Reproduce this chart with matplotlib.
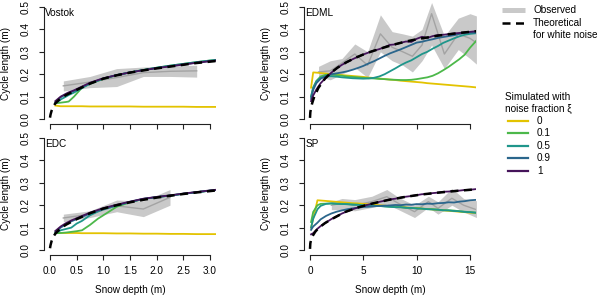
import matplotlib
matplotlib.use("Agg")
import matplotlib.pyplot as plt
from matplotlib.lines import Line2D

plt.rcParams['font.family'] = ['Liberation Sans', 'DejaVu Sans']
FS = 7.2

# ---------------- data ----------------
noise_labels = ["0", "0.1", "0.5", "0.9", "1"]
sim_colors = ["#E3C300", "#4CB84A", "#1F968B", "#2B668C", "#45145A"]

left_xticks = [0.0, 0.5, 1.0, 1.5, 2.0, 2.5, 3.0]
right_xticks = [0, 5, 10, 15]
yticks = [0.0, 0.1, 0.2, 0.3, 0.4, 0.5]

# Vostok
vostok_theo_d = [0, 0.01, 0.03, 0.06, 0.1, 0.2, 0.3, 0.5, 0.75, 1.0, 1.25, 1.5, 1.75, 2.0, 2.25, 2.5, 2.75, 3.0, 3.12]
vostok_theo_v = [0.006, 0.02, 0.037, 0.055, 0.07, 0.092, 0.107, 0.13, 0.158, 0.18, 0.195, 0.207, 0.217, 0.226, 0.234, 0.242, 0.25, 0.256, 0.259]
vostok_sim_d = [0.1, 0.2, 0.3, 0.35, 0.45, 0.6, 0.75, 1.0, 1.25, 1.5, 1.75, 2.0, 2.25, 2.5, 2.75, 3.0, 3.12]
vostok_sim0 = [0.06, 0.057, 0.057, 0.057, 0.057, 0.057, 0.056, 0.056, 0.056, 0.056, 0.055, 0.055, 0.055, 0.055, 0.054, 0.054, 0.054]
vostok_sim01 = [0.07, 0.073, 0.076, 0.078, 0.1, 0.14, 0.157, 0.179, 0.196, 0.208, 0.219, 0.229, 0.238, 0.246, 0.254, 0.261, 0.264]
vostok_sim05 = [0.07, 0.087, 0.1, 0.107, 0.118, 0.138, 0.158, 0.18, 0.196, 0.208, 0.219, 0.229, 0.238, 0.246, 0.254, 0.261, 0.264]
vostok_sim09 = [0.075, 0.097, 0.11, 0.116, 0.125, 0.142, 0.16, 0.181, 0.196, 0.208, 0.218, 0.228, 0.236, 0.244, 0.252, 0.259, 0.262]
vostok_sim1 = [0.08, 0.1, 0.113, 0.119, 0.128, 0.145, 0.162, 0.182, 0.196, 0.208, 0.218, 0.227, 0.235, 0.243, 0.251, 0.258, 0.261]
vostok_obs_d = [0.25, 0.75, 1.25, 1.75, 2.25, 2.75]
vostok_obs_mid = [0.148, 0.165, 0.185, 0.207, 0.213, 0.215]
vostok_obs_lo = [0.125, 0.14, 0.145, 0.19, 0.19, 0.187]
vostok_obs_hi = [0.17, 0.19, 0.225, 0.232, 0.237, 0.24]

# EDC
edc_theo_d = [0, 0.01, 0.03, 0.06, 0.1, 0.2, 0.3, 0.5, 0.75, 1.0, 1.25, 1.5, 1.75, 2.0, 2.25, 2.5, 2.75, 3.0, 3.12]
edc_theo_v = [0.008, 0.022, 0.04, 0.058, 0.073, 0.097, 0.113, 0.138, 0.164, 0.185, 0.2, 0.213, 0.224, 0.234, 0.242, 0.25, 0.257, 0.263, 0.266]
edc_sim_d = [0.1, 0.2, 0.3, 0.4, 0.5, 0.6, 0.75, 0.9, 1.0, 1.25, 1.5, 1.75, 2.0, 2.25, 2.5, 2.75, 3.0, 3.12]
edc_sim0 = [0.077, 0.076, 0.076, 0.076, 0.076, 0.075, 0.075, 0.075, 0.075, 0.074, 0.074, 0.073, 0.073, 0.072, 0.072, 0.071, 0.071, 0.071]
edc_sim01 = [0.075, 0.076, 0.078, 0.081, 0.084, 0.088, 0.112, 0.14, 0.155, 0.193, 0.213, 0.228, 0.236, 0.243, 0.251, 0.258, 0.265, 0.268]
edc_sim05 = [0.075, 0.088, 0.094, 0.1, 0.118, 0.13, 0.155, 0.172, 0.181, 0.198, 0.214, 0.228, 0.236, 0.243, 0.251, 0.258, 0.265, 0.268]
edc_sim09 = [0.08, 0.1, 0.115, 0.128, 0.138, 0.148, 0.163, 0.176, 0.184, 0.2, 0.215, 0.228, 0.236, 0.243, 0.251, 0.258, 0.265, 0.268]
edc_sim1 = [0.085, 0.105, 0.12, 0.132, 0.142, 0.152, 0.167, 0.179, 0.187, 0.202, 0.216, 0.229, 0.237, 0.244, 0.252, 0.259, 0.266, 0.269]
edc_obs_d = [0.25, 0.75, 1.25, 1.75, 2.25]
edc_obs_mid = [0.143, 0.16, 0.197, 0.183, 0.235]
edc_obs_lo = [0.126, 0.145, 0.171, 0.149, 0.2]
edc_obs_hi = [0.16, 0.175, 0.223, 0.219, 0.27]

# EDML
edml_theo_d = [0, 0.03, 0.1, 0.2, 0.4, 0.8, 1.4, 2.0, 2.6, 3.4, 4.2, 5.0, 5.8, 7.0, 8.0, 9.0, 10.0, 11.0, 12.0, 13.0, 14.0, 15.0, 15.6]
edml_theo_v = [0.005, 0.03, 0.05, 0.07, 0.1, 0.14, 0.18, 0.208, 0.23, 0.253, 0.272, 0.288, 0.302, 0.32, 0.334, 0.346, 0.356, 0.364, 0.372, 0.378, 0.384, 0.389, 0.392]
edml_sim_d = [0.1, 0.3, 0.6, 1.0, 1.5, 2.0, 2.5, 3.0, 3.5, 4.0, 4.5, 5.0, 5.5, 6.0, 6.5, 7.0, 7.5, 8.0, 8.5, 9.0,
              9.5, 10.0, 10.5, 11.0, 11.5, 12.0, 12.5, 13.0, 13.5, 14.0, 14.5, 15.0, 15.6]
edml_sim0 = [0.140, 0.208, 0.207, 0.205, 0.203, 0.200, 0.198, 0.196, 0.194, 0.192, 0.190, 0.188, 0.185, 0.183, 0.181, 0.178, 0.176,
             0.174, 0.171, 0.169, 0.167, 0.165, 0.163, 0.160, 0.158, 0.156, 0.154, 0.152, 0.150, 0.148, 0.146, 0.144, 0.141]
edml_sim01 = [0.100, 0.140, 0.170, 0.190, 0.198, 0.198, 0.196, 0.193, 0.190, 0.188, 0.186, 0.184, 0.182, 0.181, 0.179, 0.178, 0.176,
              0.175, 0.174, 0.174, 0.175, 0.178, 0.182, 0.186, 0.193, 0.204, 0.218, 0.233, 0.250, 0.267, 0.287, 0.318, 0.350]
edml_sim05 = [0.100, 0.140, 0.168, 0.184, 0.190, 0.191, 0.189, 0.186, 0.184, 0.182, 0.181, 0.180, 0.181, 0.184, 0.190, 0.200, 0.213,
              0.226, 0.240, 0.252, 0.262, 0.276, 0.290, 0.300, 0.314, 0.326, 0.340, 0.350, 0.360, 0.369, 0.376, 0.380, 0.383]
edml_sim09 = [0.090, 0.130, 0.160, 0.180, 0.192, 0.200, 0.204, 0.208, 0.213, 0.220, 0.228, 0.237, 0.248, 0.258, 0.270, 0.282, 0.293,
              0.302, 0.311, 0.321, 0.331, 0.341, 0.345, 0.351, 0.356, 0.362, 0.366, 0.370, 0.374, 0.380, 0.384, 0.386, 0.385]
edml_sim1 = [0.080, 0.105, 0.132, 0.160, 0.185, 0.207, 0.226, 0.242, 0.255, 0.267, 0.278, 0.288, 0.297, 0.305, 0.312, 0.321, 0.331,
             0.333, 0.340, 0.346, 0.344, 0.358, 0.367, 0.362, 0.370, 0.375, 0.376, 0.379, 0.382, 0.384, 0.387, 0.389, 0.392]
edml_obs_d = [0.8, 1.9, 3.0, 4.2, 5.4, 6.6, 7.7, 8.7, 9.6, 10.5, 11.4, 12.6, 13.9, 15.0, 15.6]
edml_obs_mid = [0.21, 0.215, 0.25, 0.29, 0.24, 0.38, 0.32, 0.30, 0.28, 0.33, 0.47, 0.29, 0.38, 0.36, 0.34]
edml_obs_lo = [0.19, 0.175, 0.20, 0.23, 0.185, 0.30, 0.26, 0.24, 0.21, 0.26, 0.33, 0.225, 0.31, 0.27, 0.245]
edml_obs_hi = [0.235, 0.26, 0.27, 0.335, 0.30, 0.465, 0.39, 0.38, 0.37, 0.40, 0.52, 0.37, 0.45, 0.47, 0.46]

# SP
sp_theo_d = [0, 0.03, 0.1, 0.2, 0.3, 0.5, 0.8, 1.4, 2.0, 3.3, 4.5, 5.8, 7.3, 8.9, 10.5, 12.0, 13.8, 15.6]
sp_theo_v = [0.005, 0.03, 0.045, 0.058, 0.067, 0.082, 0.098, 0.12, 0.137, 0.17, 0.19, 0.207, 0.223, 0.237, 0.248, 0.256, 0.264, 0.271]
sp_sim_d = [0.1, 0.3, 0.7, 1.0, 1.5, 2.0, 2.5, 3.0, 3.5, 4.0, 4.5, 5.0, 5.5, 6.0, 6.5, 7.0, 7.5, 8.0, 8.5, 9.0,
            9.5, 10.0, 10.5, 11.0, 11.5, 12.0, 12.5, 13.0, 13.5, 14.0, 14.5, 15.0, 15.6]
sp_sim0 = [0.100, 0.140, 0.222, 0.221, 0.219, 0.217, 0.215, 0.213, 0.211, 0.209, 0.208, 0.206, 0.204, 0.202, 0.200, 0.198, 0.196,
           0.194, 0.192, 0.190, 0.188, 0.187, 0.185, 0.183, 0.181, 0.179, 0.177, 0.175, 0.173, 0.171, 0.169, 0.167, 0.165]
sp_sim01 = [0.125, 0.170, 0.200, 0.206, 0.207, 0.208, 0.207, 0.206, 0.204, 0.204, 0.202, 0.200, 0.200, 0.198, 0.196, 0.196, 0.193,
            0.192, 0.191, 0.189, 0.187, 0.187, 0.184, 0.183, 0.182, 0.180, 0.178, 0.177, 0.176, 0.173, 0.171, 0.169, 0.167]
sp_sim05 = [0.100, 0.140, 0.182, 0.197, 0.206, 0.208, 0.206, 0.205, 0.205, 0.202, 0.202, 0.199, 0.200, 0.197, 0.197, 0.194, 0.193,
            0.191, 0.191, 0.188, 0.188, 0.185, 0.185, 0.182, 0.181, 0.180, 0.177, 0.177, 0.174, 0.173, 0.170, 0.169, 0.166]
sp_sim09 = [0.090, 0.105, 0.122, 0.137, 0.152, 0.163, 0.171, 0.177, 0.182, 0.186, 0.189, 0.192, 0.193, 0.195, 0.197, 0.198, 0.199,
            0.201, 0.200, 0.203, 0.202, 0.205, 0.204, 0.207, 0.206, 0.209, 0.210, 0.213, 0.212, 0.216, 0.218, 0.222, 0.224]
sp_sim1 = [0.070, 0.075, 0.095, 0.107, 0.123, 0.138, 0.151, 0.163, 0.173, 0.182, 0.190, 0.197, 0.203, 0.209, 0.215, 0.220, 0.226,
           0.229, 0.234, 0.238, 0.241, 0.245, 0.249, 0.250, 0.254, 0.256, 0.260, 0.261, 0.264, 0.265, 0.268, 0.269, 0.272]
sp_obs_d = [2.0, 3.0, 4.2, 5.8, 7.2, 8.3, 9.8, 11.1, 12.0, 13.3, 14.4, 15.6]
sp_obs_mid = [0.2, 0.208, 0.2, 0.216, 0.238, 0.208, 0.171, 0.216, 0.186, 0.231, 0.2, 0.18]
sp_obs_lo = [0.18, 0.18, 0.175, 0.19, 0.205, 0.18, 0.145, 0.19, 0.16, 0.2, 0.17, 0.145]
sp_obs_hi = [0.215, 0.23, 0.225, 0.24, 0.27, 0.235, 0.2, 0.24, 0.215, 0.275, 0.23, 0.22]

# ---------------- figure ----------------
W, H = 600, 296
fig = plt.figure(figsize=(W / 100, H / 100), dpi=100)


def px_axes(left, top, width, height):
    return fig.add_axes([left / W, 1 - (top + height) / H, width / W, height / H])


panels = [
    ("Vostok", (43.6, 2.5), False, vostok_theo_d, vostok_theo_v, vostok_sim_d,
     [vostok_sim0, vostok_sim01, vostok_sim05, vostok_sim09, vostok_sim1],
     vostok_obs_d, vostok_obs_mid, vostok_obs_lo, vostok_obs_hi, left_xticks),
    ("EDML", (303.6, 2.5), False, edml_theo_d, edml_theo_v, edml_sim_d,
     [edml_sim0, edml_sim01, edml_sim05, edml_sim09, edml_sim1],
     edml_obs_d, edml_obs_mid, edml_obs_lo, edml_obs_hi, right_xticks),
    ("EDC", (43.6, 133.5), True, edc_theo_d, edc_theo_v, edc_sim_d,
     [edc_sim0, edc_sim01, edc_sim05, edc_sim09, edc_sim1],
     edc_obs_d, edc_obs_mid, edc_obs_lo, edc_obs_hi, left_xticks),
    ("SP", (303.6, 133.5), True, sp_theo_d, sp_theo_v, sp_sim_d,
     [sp_sim0, sp_sim01, sp_sim05, sp_sim09, sp_sim1],
     sp_obs_d, sp_obs_mid, sp_obs_lo, sp_obs_hi, right_xticks),
]

for (name, (lx, ty), bottom, td, tv, sd, sims, od, omid, olo, ohi, xt) in panels:
    ax = px_axes(lx, ty, 172.8, 121)
    span = xt[-1] - xt[0]
    ax.set_xlim(xt[0] - 0.04 * span, xt[-1] + 0.04 * span)
    ax.set_ylim(-0.02, 0.52)

    ax.fill_between(od, olo, ohi, color="#C9C9C9", lw=0, zorder=1)
    ax.plot(od, omid, color="#A3A3A3", lw=1.0, zorder=2)
    for vals, col in zip(sims, sim_colors):
        ax.plot(sd, vals, color=col, lw=1.3, zorder=3, solid_joinstyle="round")
    ax.plot(td, tv, color="black", lw=1.8, linestyle=(0, (3.2, 2.2)), zorder=4)

    for s in ["top", "right"]:
        ax.spines[s].set_visible(False)
    ax.spines["left"].set_bounds(0, 0.5)
    ax.spines["bottom"].set_bounds(xt[0], xt[-1])
    for s in ["left", "bottom"]:
        ax.spines[s].set_linewidth(0.8)
        ax.spines[s].set_color("#222222")

    ax.set_yticks(yticks)
    ax.set_yticklabels([f"{v:.1f}" for v in yticks], rotation=90, va="center")
    ax.set_xticks(xt)
    if bottom:
        if isinstance(xt[0], float):
            ax.set_xticklabels([f"{v:.1f}" for v in xt])
        else:
            ax.set_xticklabels([str(v) for v in xt])
        ax.set_xlabel("Snow depth (m)", fontsize=FS)
        ax.xaxis.label.set_va("center")
        ax.xaxis.set_label_coords(0.5, -0.293)
    else:
        ax.set_xticklabels([])
    ax.tick_params(direction="out", length=3.6, width=0.8, color="#222222",
                   labelsize=FS, pad=4.5)
    ax.tick_params(axis="y", pad=6)

    ax.set_ylabel("Cycle length (m)", fontsize=FS)
    ax.yaxis.label.set_va("center")
    ax.yaxis.set_label_coords(-0.215, 0.5)

    ax.text(0.01, 0.915, name, transform=ax.transAxes, fontsize=FS,
            ha="left", va="center")

# ---------------- legend ----------------
lax = fig.add_axes([0, 0, 1, 1])
lax.set_xlim(0, W)
lax.set_ylim(H, 0)
lax.axis("off")

lax.add_line(Line2D([502, 525], [10, 10], color="#C9C9C9", lw=3.6, solid_capstyle="butt"))
lax.text(533, 10, "Observed", fontsize=FS, ha="left", va="center")
lax.add_line(Line2D([502, 525], [23, 23], color="black", lw=1.8, linestyle=(0, (3.2, 2.2))))
lax.text(533, 23, "Theoretical", fontsize=FS, ha="left", va="center")
lax.text(533, 35, "for white noise", fontsize=FS, ha="left", va="center")

lax.text(505, 97, "Simulated with", fontsize=FS, ha="left", va="center")
lax.text(505, 109, "noise fraction ξ", fontsize=FS, ha="left", va="center")
for i, (lab, col) in enumerate(zip(noise_labels, sim_colors)):
    yy = 121 + i * 12.4
    lax.add_line(Line2D([508, 528], [yy, yy], color=col, lw=1.6))
    lax.text(537, yy, lab, fontsize=FS, ha="left", va="center")

fig.savefig("out.png", dpi=100)
